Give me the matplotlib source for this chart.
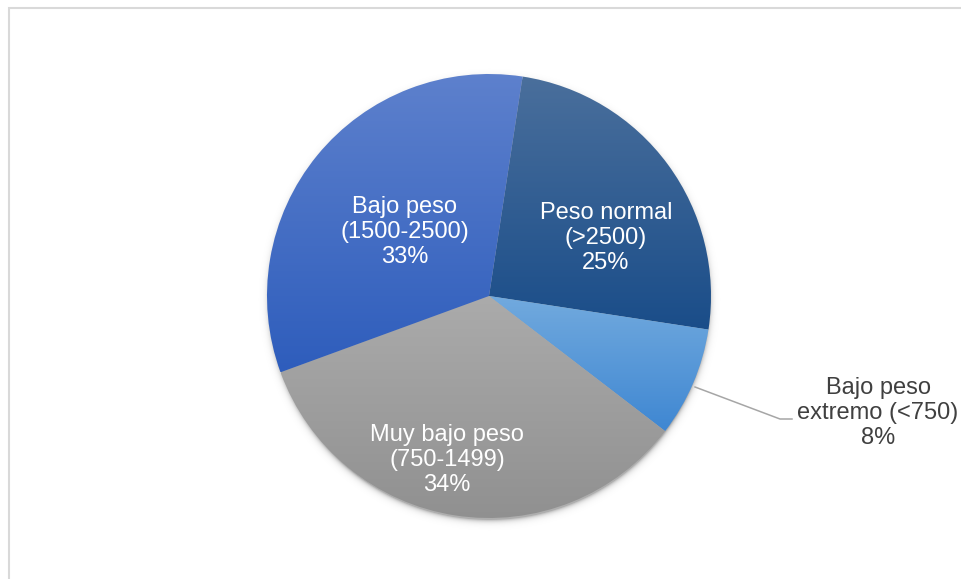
import numpy as np
import matplotlib
matplotlib.use("Agg")
import matplotlib.pyplot as plt
from matplotlib.colors import LinearSegmentedColormap
from matplotlib.patches import Rectangle

# birth weight groups, clockwise from the top
categories = ["Peso normal", "Bajo peso\nextremo", "Muy bajo peso", "Bajo peso"]
ranges = ["(>2500)", "(<750)", "(750-1499)", "(1500-2500)"]
percents = [25, 8, 34, 33]

# top / bottom colour of each slice gradient
grad_top = ["#4a6f9c", "#72aade", "#ababab", "#5e81cd"]
grad_bot = ["#1a4d89", "#3f87d2", "#909090", "#2e5dbc"]

W, H = 961, 579
CX, CY, R = 489, H - 296, 222

plt.rcParams['font.family'] = ['Liberation Sans', 'DejaVu Sans']

fig = plt.figure(figsize=(W / 100, H / 100), dpi=100)
ax = fig.add_axes([0, 0, 1, 1])
ax.set_axis_off()

# soft drop shadow under the pie
yy, xx = np.mgrid[0:H, 0:W]
d = np.hypot(xx - CX, (H - yy) - (CY - 3))
alpha = np.where(d > R - 2, 0.32 * np.exp(-np.clip(d - R + 2, 0, None) / 2.5), 0.32)
shadow = np.zeros((H, W, 4))
shadow[..., 3] = alpha
ax.imshow(shadow, extent=(0, W, 0, H), zorder=0, interpolation="bilinear")

wedges, _ = ax.pie(percents, startangle=81.3, counterclock=False,
                   center=(CX, CY), radius=R,
                   wedgeprops=dict(linewidth=0, edgecolor="none"))

# vertical gradient fill clipped to each wedge
grad = np.linspace(0, 1, 256).reshape(-1, 1)
for w, c0, c1 in zip(wedges, grad_top, grad_bot):
    v = w.get_path().vertices
    x0, x1 = v[:, 0].min(), v[:, 0].max()
    y0, y1 = v[:, 1].min(), v[:, 1].max()
    cmap = LinearSegmentedColormap.from_list("g", [c0, c1])
    im = ax.imshow(grad, cmap=cmap, extent=(x0, x1, y0, y1), aspect="auto",
                   zorder=2, interpolation="bilinear")
    im.set_clip_path(w)
    w.set_facecolor("none")

ax.set_xlim(0, W)
ax.set_ylim(0, H)
ax.set_aspect("auto")

# labels inside the slices
label_pos = [(606, 238), None, (447, 460), (405, 232)]
for name, rng, p, pos in zip(categories, ranges, percents, label_pos):
    if pos is None:
        continue
    ax.text(pos[0], H - pos[1], f"{name}\n{rng}\n{p}%", ha="center", va="center",
            color="white", fontsize=17, linespacing=1.15, zorder=5)

# outside label for the small slice, with leader line
ax.plot([695, 780, 792], [H - 387, H - 419, H - 419], color="#a6a6a6", lw=1.1, zorder=4)
ax.text(878, H - 413, f"Bajo peso\nextremo {ranges[1]}\n{percents[1]}%",
        ha="center", va="center", color="#404040", fontsize=17, linespacing=1.15, zorder=5)

# chart area border
fig.patches.append(Rectangle((8.5 / W, -0.1), 1.2, 1.1 - 8.5 / H, transform=fig.transFigure,
                             fill=False, edgecolor="#d9d9d9", lw=1.5))

fig.savefig("out.png", dpi=100)
